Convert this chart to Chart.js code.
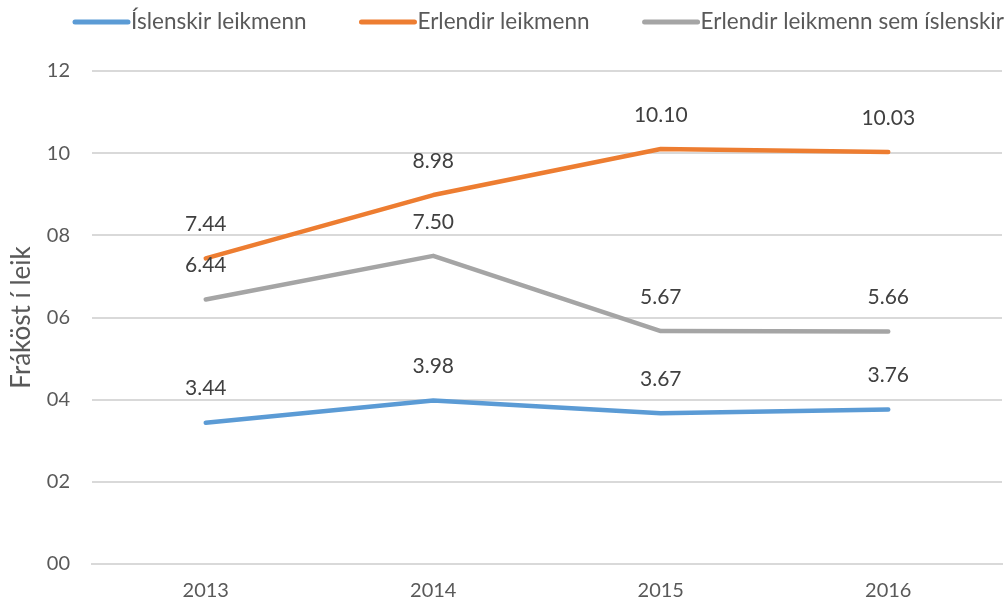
<!DOCTYPE html>
<html>
<head>
<meta charset="utf-8">
<script src="https://cdn.jsdelivr.net/npm/chart.js@4.4.0/dist/chart.umd.min.js"></script>
<style>
  html, body { margin: 0; padding: 0; background: #fff; }
  #wrap { width: 1007px; height: 603px; position: relative; }
</style>
</head>
<body>
<div id="wrap"><canvas id="chart"></canvas></div>
<script>
const years = ['2013', '2014', '2015', '2016'];
const islenskir = [3.44, 3.98, 3.67, 3.76];
const erlendir = [7.44, 8.98, 10.10, 10.03];
const erlendirSemIsl = [6.44, 7.50, 5.67, 5.66];
const seriesNames = ['Íslenskir leikmenn', 'Erlendir leikmenn', 'Erlendir leikmenn sem íslenskir'];
const yTitle = 'Fráköst í leik';

const FONT = 'Lato, "Open Sans", sans-serif';
const TEXT = '#595959';

// value labels above each point
const valueLabels = {
    id: 'valueLabels',
    afterDatasetsDraw(chart) {
        const ctx = chart.ctx;
        ctx.save();
        ctx.font = '21px ' + FONT;
        ctx.fillStyle = '#404040';
        ctx.textAlign = 'center';
        ctx.textBaseline = 'middle';
        chart.data.datasets.forEach((ds, i) => {
            chart.getDatasetMeta(i).data.forEach((pt, j) => {
                ctx.fillText(ds.data[j].toFixed(2), pt.x, pt.y - 34);
            });
        });
        ctx.restore();
    }
};

// legend drawn like excel: long line then text right next to it
const lineLegend = {
    id: 'lineLegend',
    afterDraw(chart) {
        const ctx = chart.ctx;
        ctx.save();
        ctx.font = '22.5px ' + FONT;
        ctx.textBaseline = 'middle';
        let x = 75;
        const y = 22;
        chart.data.datasets.forEach(ds => {
            ctx.strokeStyle = ds.borderColor;
            ctx.lineWidth = 5;
            ctx.lineCap = 'round';
            ctx.beginPath();
            ctx.moveTo(x, y);
            ctx.lineTo(x + 53, y);
            ctx.stroke();
            x += 56;
            ctx.fillStyle = TEXT;
            ctx.fillText(ds.label, x, y);
            x += ctx.measureText(ds.label).width + 55;
        });
        ctx.restore();
    }
};

new Chart(document.getElementById('chart'), {
    type: 'line',
    data: {
        labels: years,
        datasets: [
            { label: seriesNames[0], data: islenskir, borderColor: '#5B9BD5' },
            { label: seriesNames[1], data: erlendir, borderColor: '#ED7D31' },
            { label: seriesNames[2], data: erlendirSemIsl, borderColor: '#A5A5A5' }
        ]
    },
    options: {
        responsive: true,
        maintainAspectRatio: false,
        animation: false,
        elements: {
            line: { borderWidth: 4.5, tension: 0, borderCapStyle: 'round', borderJoinStyle: 'round' },
            point: { radius: 0 }
        },
        layout: { padding: { top: 71, right: 5, bottom: 0, left: 0 } },
        plugins: {
            legend: { display: false },
            tooltip: { enabled: false }
        },
        scales: {
            x: {
                offset: true,
                grid: { display: false, drawTicks: false },
                border: { color: '#D9D9D9', width: 2 },
                ticks: { color: TEXT, font: { family: FONT, size: 20 }, padding: 15 },
                afterFit: s => { s.height = 39; }
            },
            y: {
                min: 0,
                max: 12,
                ticks: {
                    stepSize: 2,
                    color: TEXT,
                    font: { family: FONT, size: 20 },
                    padding: 22,
                    callback: v => String(v).padStart(2, '0')
                },
                grid: { color: '#D9D9D9', lineWidth: 2, drawTicks: false },
                border: { display: false },
                title: {
                    display: true,
                    text: yTitle,
                    color: TEXT,
                    font: { family: FONT, size: 26 },
                    lineHeight: 1,
                    padding: { top: 6, bottom: 0 }
                },
                afterFit: s => { s.width = 92; }
            }
        }
    },
    plugins: [valueLabels, lineLegend]
});
</script>
</body>
</html>
